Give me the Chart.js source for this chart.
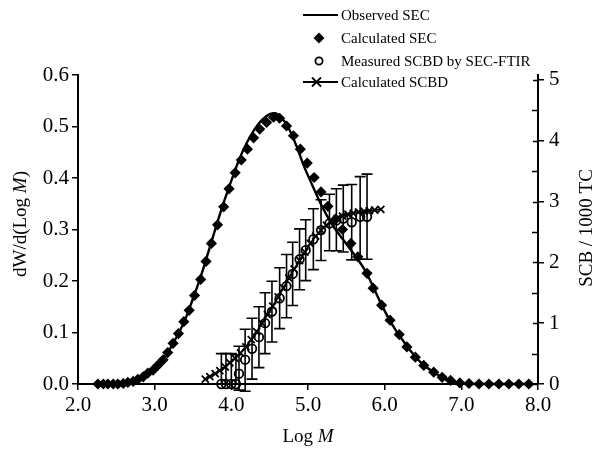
<!DOCTYPE html>
<html><head><meta charset="utf-8">
<script src="https://cdn.jsdelivr.net/npm/chart.js@4.4.0/dist/chart.umd.min.js"></script>
<style>
html,body{margin:0;padding:0;background:#fff;}
#wrap{position:relative;width:602px;height:463px;}
#legend{position:absolute;left:302px;top:0;font-family:"Liberation Serif","Times New Roman",serif;font-size:15px;color:#000;}
.row{position:absolute;left:0;height:22px;display:flex;align-items:center;white-space:nowrap;}
.row svg{width:38px;height:22px;flex:none;}
</style></head><body>
<div id="wrap"><canvas id="c" width="602" height="463"></canvas><div id="legend"></div></div>
<script>
// ---------- data ----------
const seriesNames = ["Observed SEC", "Calculated SEC", "Measured SCBD by SEC-FTIR", "Calculated SCBD"];
const xTitle = "Log M";
const yLeftTitle = "dW/d(Log M)";
const yRightTitle = "SCB / 1000 TC";

// Observed SEC (line, left axis)
const obsLogM = [2.25,2.50,2.65,2.80,2.90,3.00,3.10,3.20,3.30,3.40,3.50,3.60,3.70,3.80,3.90,4.00,4.10,4.20,4.30,4.40,4.50,4.57,4.65,4.75,4.85,4.95,5.05,5.15,5.25,5.35,5.45,5.55,5.65,5.75,5.85,5.95,6.05,6.15,6.25,6.35,6.45,6.55,6.65,6.75,6.85,7.00,7.20,7.90];
const obsW    = [0.000,0.000,0.002,0.009,0.018,0.030,0.046,0.068,0.095,0.126,0.166,0.208,0.256,0.305,0.352,0.395,0.435,0.468,0.494,0.513,0.524,0.526,0.518,0.496,0.462,0.422,0.388,0.355,0.326,0.302,0.282,0.262,0.242,0.219,0.189,0.157,0.128,0.103,0.082,0.062,0.045,0.032,0.022,0.013,0.007,0.002,0.000,0.000];

// Calculated SEC (diamonds, left axis)
const calcLogM = [2.26,2.33,2.39,2.46,2.52,2.59,2.65,2.72,2.78,2.85,2.91,2.98,3.04,3.11,3.17,3.24,3.31,3.38,3.45,3.52,3.60,3.67,3.74,3.82,3.90,3.97,4.05,4.13,4.21,4.29,4.37,4.46,4.55,4.63,4.72,4.81,4.90,4.99,5.08,5.17,5.26,5.36,5.45,5.56,5.65,5.77,5.85,5.96,6.07,6.19,6.29,6.40,6.51,6.64,6.75,6.86,6.98,7.10,7.23,7.36,7.49,7.62,7.75,7.88];
const calcW    = [0.000,0.000,0.000,0.000,0.000,0.001,0.003,0.005,0.009,0.014,0.021,0.027,0.036,0.047,0.061,0.079,0.098,0.121,0.143,0.172,0.203,0.238,0.273,0.309,0.344,0.379,0.410,0.435,0.456,0.478,0.495,0.508,0.518,0.516,0.501,0.482,0.456,0.429,0.401,0.373,0.345,0.320,0.300,0.273,0.247,0.215,0.186,0.153,0.124,0.096,0.072,0.052,0.036,0.023,0.013,0.007,0.002,0.001,0.000,0.000,0.000,0.000,0.000,0.000];

// Measured SCBD by SEC-FTIR (open circles with error bars, right axis)
const measLogM  = [3.87,3.93,4.00,4.06,4.10,4.18,4.27,4.36,4.44,4.53,4.63,4.72,4.80,4.89,4.97,5.07,5.17,5.28,5.37,5.46,5.57,5.68,5.77];
const measSCB   = [0.00,0.00,0.00,0.00,0.17,0.40,0.58,0.77,1.00,1.19,1.41,1.61,1.81,2.05,2.20,2.38,2.53,2.64,2.69,2.72,2.66,2.75,2.75];
const measErrUp = [0.50,0.50,0.50,0.48,0.45,0.50,0.50,0.50,0.50,0.50,0.50,0.52,0.52,0.50,0.50,0.50,0.50,0.48,0.52,0.55,0.62,0.66,0.70];
const measErrDn = [0.00,0.00,0.00,0.00,0.27,0.52,0.50,0.50,0.50,0.50,0.50,0.52,0.52,0.50,0.50,0.50,0.50,0.45,0.50,0.55,0.62,0.70,0.70];

// Calculated SCBD (line with x markers, right axis)
const scbdLogM = [3.66,3.72,3.79,3.85,3.92,3.98,4.05,4.12,4.19,4.26,4.33,4.40,4.47,4.54,4.61,4.68,4.75,4.82,4.89,4.96,5.03,5.10,5.17,5.24,5.31,5.38,5.45,5.52,5.59,5.66,5.73,5.80,5.87,5.95];
const scbdVal  = [0.08,0.12,0.17,0.22,0.28,0.35,0.42,0.51,0.61,0.73,0.86,1.00,1.14,1.28,1.43,1.58,1.74,1.89,2.03,2.17,2.31,2.43,2.53,2.61,2.67,2.72,2.76,2.79,2.81,2.83,2.84,2.85,2.86,2.87];

const xTicks = [2,3,4,5,6,7,8];
const yLeftTicks = [0,0.1,0.2,0.3,0.4,0.5,0.6];
const yRightTicks = [0,1,2,3,4,5];

// ---------- helpers ----------
const pts = (xs, ys) => xs.map((x, i) => ({x: x, y: ys[i]}));
const FONT = '"Liberation Serif","Times New Roman",serif';

// ---------- legend (HTML) ----------
const legendSymbols = [
  '<svg viewBox="0 0 38 22"><line x1="1" y1="11" x2="36" y2="11" stroke="#000" stroke-width="2.2"/></svg>',
  '<svg viewBox="0 0 38 22"><polygon points="17,5.5 22.5,11 17,16.5 11.5,11" fill="#000"/></svg>',
  '<svg viewBox="0 0 38 22"><circle cx="17" cy="11" r="3.6" fill="none" stroke="#000" stroke-width="1.8"/></svg>',
  '<svg viewBox="0 0 38 22"><line x1="1" y1="11" x2="36" y2="11" stroke="#000" stroke-width="1.8"/><line x1="10" y1="6.5" x2="19" y2="15.5" stroke="#000" stroke-width="1.8"/><line x1="10" y1="15.5" x2="19" y2="6.5" stroke="#000" stroke-width="1.8"/></svg>'
];
const legendTops = [4, 27, 50, 71];
const legendEl = document.getElementById('legend');
seriesNames.forEach((n, i) => {
  const r = document.createElement('div');
  r.className = 'row';
  r.style.top = legendTops[i] + 'px';
  r.innerHTML = legendSymbols[i] + '<span style="margin-left:1px">' + n + '</span>';
  legendEl.appendChild(r);
});

// ---------- plugins ----------
function drawMixed(ctx, parts, cx, cy, rot, size) {
  ctx.save();
  ctx.translate(cx, cy);
  ctx.rotate(rot);
  ctx.textBaseline = 'middle';
  ctx.textAlign = 'left';
  let total = 0;
  const widths = parts.map(p => {
    ctx.font = (p[1] ? 'italic ' : '') + size + 'px ' + FONT;
    const w = ctx.measureText(p[0]).width; total += w; return w;
  });
  let x = -total / 2;
  parts.forEach((p, i) => {
    ctx.font = (p[1] ? 'italic ' : '') + size + 'px ' + FONT;
    ctx.fillText(p[0], x, 0);
    x += widths[i];
  });
  ctx.restore();
}
function splitItalicM(s) {
  const idx = s.indexOf('M');
  if (idx < 0) return [[s, false]];
  const out = [[s.slice(0, idx), false], ['M', true]];
  if (idx + 1 < s.length) out.push([s.slice(idx + 1), false]);
  return out;
}
const titlesPlugin = {
  id: 'titles',
  afterDraw(chart) {
    const ctx = chart.ctx, a = chart.chartArea;
    ctx.save();
    ctx.fillStyle = '#000';
    drawMixed(ctx, splitItalicM(xTitle), (a.left + a.right) / 2, 437, 0, 19);
    drawMixed(ctx, splitItalicM(yLeftTitle), 21, 224, -Math.PI / 2, 19);
    drawMixed(ctx, [[yRightTitle, false]], 587, 228, -Math.PI / 2, 19);
    ctx.restore();
  }
};
const errorBarPlugin = {
  id: 'errbars',
  afterDatasetsDraw(chart) {
    const ctx = chart.ctx, xs = chart.scales.x, ys = chart.scales.y2;
    ctx.save();
    ctx.strokeStyle = '#000';
    ctx.lineWidth = 1.6;
    measLogM.forEach((lm, i) => {
      const px = xs.getPixelForValue(lm);
      const top = ys.getPixelForValue(measSCB[i] + measErrUp[i]);
      const bot = ys.getPixelForValue(measSCB[i] - measErrDn[i]);
      ctx.beginPath();
      ctx.moveTo(px, top); ctx.lineTo(px, bot);
      ctx.moveTo(px - 5.5, top); ctx.lineTo(px + 5.5, top);
      if (measErrDn[i] > 0) { ctx.moveTo(px - 5.5, bot); ctx.lineTo(px + 5.5, bot); }
      ctx.stroke();
    });
    ctx.restore();
  }
};
const minorTickPlugin = {
  id: 'minorticks',
  afterDraw(chart) {
    const ctx = chart.ctx, ys = chart.scales.y2, a = chart.chartArea;
    ctx.save();
    ctx.strokeStyle = '#000';
    ctx.lineWidth = 1.5;
    ctx.beginPath();
    for (let v = 0.5; v < 5; v += 1) {
      const py = Math.round(ys.getPixelForValue(v)) + 0.5;
      ctx.moveTo(a.right - 6, py); ctx.lineTo(a.right, py);
    }
    yRightTicks.forEach(v => {
      const py = Math.round(ys.getPixelForValue(v)) + 0.5;
      ctx.moveTo(a.right - 5, py); ctx.lineTo(a.right, py);
    });
    ctx.stroke();
    ctx.restore();
  }
};

// ---------- chart ----------
const tickFont = {family: FONT, size: 21};
const axisCommon = {
  grid: {drawOnChartArea: false, drawTicks: true, tickLength: 6, color: '#000', lineWidth: 1.5},
  border: {display: true, color: '#000', width: 2}
};

new Chart(document.getElementById('c'), {
  type: 'scatter',
  data: {
    datasets: [
      {label: seriesNames[1], data: pts(calcLogM, calcW), yAxisID: 'y', showLine: false,
       pointStyle: 'rectRot', pointRadius: 5.6, pointBackgroundColor: '#000', pointBorderWidth: 0, clip: false, order: 1},
      {label: seriesNames[0], data: pts(obsLogM, obsW), yAxisID: 'y', showLine: true, borderColor: '#000',
       borderWidth: 2.4, pointRadius: 0, cubicInterpolationMode: 'monotone', clip: false, order: 2},
      {label: seriesNames[2], data: pts(measLogM, measSCB), yAxisID: 'y2', showLine: false,
       pointStyle: 'circle', pointRadius: 4.3, pointBorderColor: '#000', pointBackgroundColor: 'rgba(255,255,255,0)',
       pointBorderWidth: 1.8, clip: false, order: 3},
      {label: seriesNames[3], data: pts(scbdLogM, scbdVal), yAxisID: 'y2', showLine: true, borderColor: '#000',
       borderWidth: 1.8, pointStyle: 'crossRot', pointRadius: 5, pointBorderColor: '#000', pointBorderWidth: 1.8,
       clip: false, order: 4}
    ]
  },
  options: {
    responsive: false,
    animation: false,
    devicePixelRatio: 1,
    layout: {padding: {top: 75, left: 0, right: 0, bottom: 0}},
    plugins: {legend: {display: false}, tooltip: {enabled: false}, title: {display: false}},
    scales: {
      x: Object.assign({}, axisCommon, {
        type: 'linear', min: xTicks[0], max: xTicks[xTicks.length - 1],
        afterBuildTicks: s => { s.ticks = xTicks.map(v => ({value: v})); },
        ticks: {font: tickFont, color: '#000', padding: 3, maxRotation: 0, callback: v => Number(v).toFixed(1)},
        afterFit: s => { s.height = 79; }
      }),
      y: Object.assign({}, axisCommon, {
        position: 'left', min: 0, max: 0.6,
        afterBuildTicks: s => { s.ticks = yLeftTicks.map(v => ({value: v})); },
        ticks: {font: tickFont, color: '#000', padding: 3, callback: v => Number(v).toFixed(1)},
        afterFit: s => { s.width = 78; }
      }),
      y2: Object.assign({}, axisCommon, {
        position: 'right', min: 0, max: 5.08,
        afterBuildTicks: s => { s.ticks = yRightTicks.map(v => ({value: v})); },
        ticks: {font: tickFont, color: '#000', padding: 5, callback: v => String(v)},
        afterFit: s => { s.width = 64; }
      })
    }
  },
  plugins: [titlesPlugin, errorBarPlugin, minorTickPlugin]
});
</script>
</body></html>
